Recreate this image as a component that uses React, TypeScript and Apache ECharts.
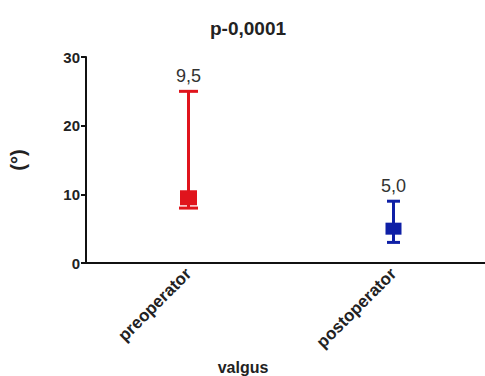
import React, { useEffect, useRef } from "react";
import * as echarts from "echarts";

const categories = ["preoperator", "postoperator"];
const medians = [9.5, 5.0];
const lows = [8, 3];
const highs = [25, 9];
const medianLabels = ["9,5", "5,0"];
const colors = ["#e0141c", "#0e1fa6"];
const yTicks = { min: 0, max: 30, interval: 10 };

export default function App() {
  const ref = useRef<HTMLDivElement>(null);
  useEffect(() => {
    const chart = echarts.init(ref.current!, null, { renderer: "svg" });
    const data = categories.map((c, i) => [i, medians[i], lows[i], highs[i]]);
    chart.setOption({
      animation: false,
      backgroundColor: "#fff",
      title: {
        text: "p-0,0001",
        left: 243,
        textAlign: "center",
        top: 14,
        textStyle: { fontFamily: "Liberation Sans", fontWeight: "bold", fontSize: 19, color: "#222" },
      },
      grid: { left: 86, top: 57, width: 410, height: 206, containLabel: false, outerBoundsMode: "none" },
      xAxis: {
        type: "category",
        data: categories,
        axisLine: { lineStyle: { color: "#111", width: 2 } },
        axisTick: { alignWithLabel: true, length: 5, lineStyle: { color: "#111", width: 2 } },
        axisLabel: {
          rotate: 45,
          margin: 8,
          fontFamily: "Liberation Sans",
          fontWeight: "bold",
          fontSize: 17,
          color: "#222",
        },
        name: "valgus",
        nameLocation: "middle",
        nameGap: 96,
        nameTextStyle: { fontFamily: "Liberation Sans", fontWeight: "bold", fontSize: 16, color: "#222", padding: [0, 0, 0, -410 + 314] },
      },
      yAxis: {
        type: "value",
        min: yTicks.min,
        max: yTicks.max,
        interval: yTicks.interval,
        splitLine: { show: false },
        axisLine: { show: true, lineStyle: { color: "#111", width: 2 } },
        axisTick: { show: true, length: 5, lineStyle: { color: "#111", width: 2 } },
        axisLabel: { fontFamily: "Liberation Sans", fontWeight: "bold", fontSize: 15, color: "#222", margin: 6 },
        name: "(°)",
        nameLocation: "middle",
        nameRotate: 90,
        nameGap: 58,
        nameTextStyle: { fontFamily: "Liberation Sans", fontWeight: "bold", fontSize: 20, color: "#222" },
      },
      series: [
        {
          type: "custom",
          data,
          renderItem: (params: any, api: any) => {
            const i = api.value(0);
            const x = api.coord([i, api.value(1)])[0];
            const yMed = api.coord([i, api.value(1)])[1];
            const yLo = api.coord([i, api.value(2)])[1];
            const yHi = api.coord([i, api.value(3)])[1];
            const color = colors[params.dataIndex];
            const capW = params.dataIndex === 0 ? 19 : 13;
            const sq = params.dataIndex === 0 ? 17 : 16;
            const sqH = params.dataIndex === 0 ? 15 : 12;
            const ls = { stroke: color, lineWidth: 3 };
            return {
              type: "group",
              children: [
                { type: "line", shape: { x1: x, y1: yHi, x2: x, y2: yLo }, style: ls },
                { type: "line", shape: { x1: x - capW / 2, y1: yHi, x2: x + capW / 2, y2: yHi }, style: ls },
                { type: "line", shape: { x1: x - capW / 2, y1: yLo, x2: x + capW / 2, y2: yLo }, style: ls },
                { type: "rect", shape: { x: x - sq / 2, y: yMed - sqH / 2, width: sq, height: sqH }, style: { fill: color } },
                {
                  type: "text",
                  x: x,
                  y: yHi - 6,
                  style: {
                    text: medianLabels[params.dataIndex],
                    fill: "#333",
                    fontFamily: "Liberation Sans",
                    fontSize: 18,
                    align: "center",
                    verticalAlign: "bottom",
                  },
                },
              ],
            };
          },
        },
      ],
    });
    return () => chart.dispose();
  }, []);
  return <div ref={ref} style={{ width: 485, height: 376, position: "absolute", left: 0, top: 0 }} />;
}
